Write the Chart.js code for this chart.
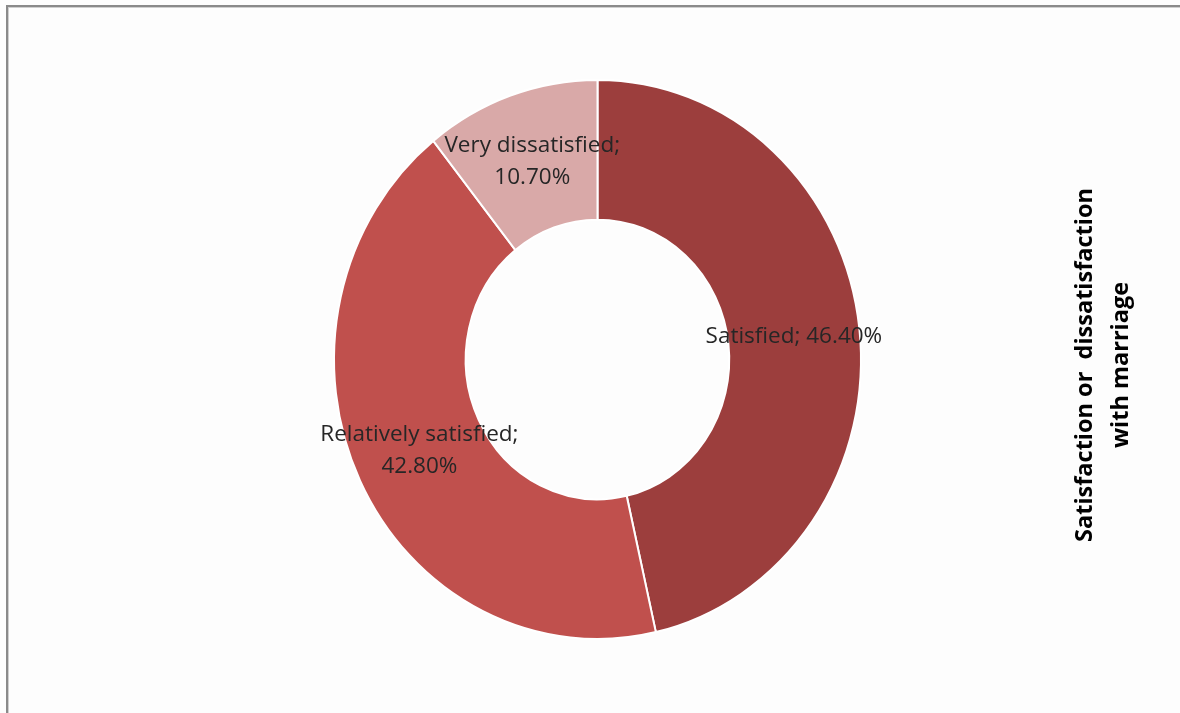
<!DOCTYPE html>
<html lang="en">
<head>
    <meta charset="UTF-8">
    <title>Satisfaction or dissatisfaction with marriage</title>
    <style>
        html, body {
            margin: 0;
            padding: 0;
            background: #fdfdfd;
        }

        .chart-container {
            position: relative;
            width: 1180px;
            height: 713px;
        }
    </style>
</head>
<body>
    <div class="chart-container">
        <canvas id="donutChart"></canvas>
    </div>

    <script src="https://cdn.jsdelivr.net/npm/chart.js"></script>

    <script>
        // Data
        const categories = ['Satisfied', 'Relatively satisfied', 'Very dissatisfied'];
        const shares = [46.4, 42.8, 10.7];
        const sliceLabels = [['Satisfied; 46.40%'], ['Relatively satisfied;', '42.80%'], ['Very dissatisfied;', '10.70%']];
        const titleLines = ['Satisfaction or  dissatisfaction', 'with marriage'];
        const sliceColors = ['#9c3e3d', '#c0504d', '#d9a9a8'];

        const labelFont = '22.5px "Open Sans", "Noto Sans", sans-serif';
        // the original ring is a bit taller than it is wide
        const stretchY = 1.061;

        // background + the grey frame lines on top and left
        const framePlugin = {
            id: 'frame',
            beforeDraw(chart) {
                const c = chart.ctx;
                c.save();
                c.fillStyle = '#fdfdfd';
                c.fillRect(0, 0, chart.width, chart.height);
                c.fillStyle = '#8a8a8a';
                c.fillRect(6, 5, chart.width - 6, 2);
                c.fillRect(6, 5, 2, chart.height - 5);
                c.fillStyle = '#cfcfcf';
                c.fillRect(8, 7, chart.width - 8, 1);
                c.fillRect(8, 7, 1, chart.height - 7);
                c.restore();
            }
        };

        function centerY(chart) {
            return (chart.chartArea.top + chart.chartArea.bottom) / 2;
        }

        // stretch the ring vertically around its centre
        const stretchPlugin = {
            id: 'stretch',
            beforeDatasetsDraw(chart) {
                const c = chart.ctx;
                const cy = centerY(chart);
                c.save();
                c.translate(0, cy);
                c.scale(1, stretchY);
                c.translate(0, -cy);
            },
            afterDatasetsDraw(chart) {
                chart.ctx.restore();
            }
        };

        // "Category; value" labels drawn in the middle of each slice
        const sliceLabelPlugin = {
            id: 'sliceLabels',
            afterDatasetsDraw(chart) {
                const c = chart.ctx;
                const cy = centerY(chart);
                const arcs = chart.getDatasetMeta(0).data;
                c.save();
                c.font = labelFont;
                c.fillStyle = '#262626';
                c.textAlign = 'center';
                c.textBaseline = 'middle';
                arcs.forEach((arc, i) => {
                    const pos = arc.tooltipPosition();
                    const lines = sliceLabels[i];
                    const lh = 32;
                    const y = cy + (pos.y - cy) * stretchY - (lines.length - 1) * lh / 2;
                    lines.forEach((t, k) => c.fillText(t, pos.x, y + k * lh));
                });
                c.restore();
            }
        };

        // vertical title on the right, reading bottom to top
        const sideTitlePlugin = {
            id: 'sideTitle',
            afterDraw(chart) {
                const c = chart.ctx;
                c.save();
                c.translate(1103, 365);
                c.rotate(-Math.PI / 2);
                c.font = 'bold 23.5px "Open Sans", "Noto Sans", sans-serif';
                c.fillStyle = '#000000';
                c.textAlign = 'center';
                c.textBaseline = 'middle';
                c.fillText(titleLines[0], 0, -18);
                c.fillText(titleLines[1], 0, 18);
                c.restore();
            }
        };

        const ctx = document.getElementById('donutChart').getContext('2d');

        const donutChart = new Chart(ctx, {
            type: 'doughnut',
            data: {
                labels: categories,
                datasets: [{
                    data: shares,
                    backgroundColor: sliceColors,
                    borderColor: '#ffffff',
                    borderWidth: 2
                }]
            },
            options: {
                responsive: true,
                maintainAspectRatio: false,
                animation: false,
                cutout: '50%',
                layout: {
                    padding: { top: 95, bottom: 89, left: 200, right: 185 }
                },
                plugins: {
                    legend: { display: false },
                    tooltip: { enabled: false },
                    title: { display: false }
                }
            },
            plugins: [framePlugin, stretchPlugin, sliceLabelPlugin, sideTitlePlugin]
        });
    </script>
</body>
</html>
